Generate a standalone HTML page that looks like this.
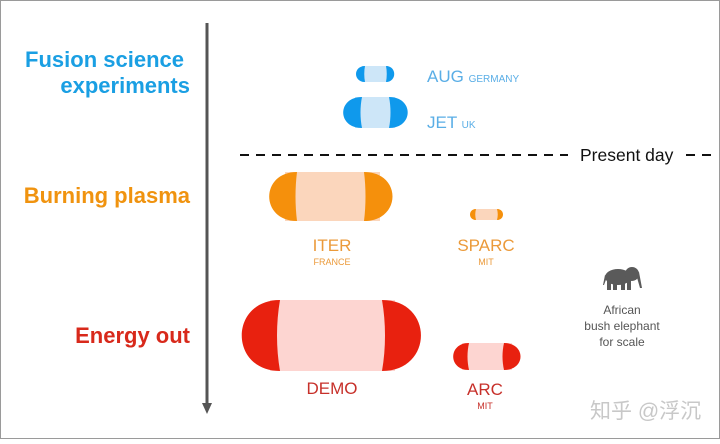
<!DOCTYPE html>
<html><head><meta charset="utf-8"><style>
html,body{margin:0;padding:0;background:#fff}
.f{font-family:"Liberation Sans","Noto Sans CJK SC",sans-serif}
</style></head><body>
<svg width="720" height="439" viewBox="0 0 720 439" xmlns="http://www.w3.org/2000/svg" class="f">
<rect x="0.5" y="0.5" width="719" height="438" fill="#fff" stroke="#9a9a9a"/>
<line x1="207" y1="23" x2="207" y2="405" stroke="#555" stroke-width="3"/>
<polygon points="202,403 212,403 207,414" fill="#555"/>
<g font-weight="bold" font-size="22" text-anchor="end">
<text x="184" y="67" fill="#1a9fe3">Fusion science</text>
<text x="190" y="93" fill="#1a9fe3">experiments</text>
<text x="190" y="203" fill="#f0930f">Burning plasma</text>
<text x="190" y="343" fill="#d8291b">Energy out</text>
</g>
<line x1="240" y1="155" x2="568" y2="155" stroke="#111" stroke-width="2" stroke-dasharray="9,7"/>
<text x="580" y="161" font-size="17.5" fill="#111">Present day</text>
<line x1="686" y1="155" x2="712" y2="155" stroke="#111" stroke-width="2" stroke-dasharray="9,7"/>
<rect x="362" y="66" width="26" height="16" fill="#cde6f8"/>
<path d="M365,66 C353,66 353,82 365,82 C364,77 364,71 365,66Z" fill="#0f99ec"/>
<path d="M386,66 C397,66 397,82 386,82 C387,77 387,71 386,66Z" fill="#0f99ec"/>
<rect x="355" y="97" width="40" height="31" fill="#cde6f8"/>
<path d="M362,97 C337,97 337,128 362,128 C360,118 360,107 362,97Z" fill="#0f99ec"/>
<path d="M389,97 C414,97 414,128 389,128 C391,118 391,107 389,97Z" fill="#0f99ec"/>
<rect x="285" y="172" width="95" height="49" fill="#fbd6bc"/>
<path d="M297,172 C260,172 260,221 297,221 C295,205 295,188 297,172Z" fill="#f5900c"/>
<path d="M364,172 C402,172 402,221 364,221 C366,205 366,188 364,172Z" fill="#f5900c"/>
<rect x="474" y="209" width="25" height="11" fill="#fbd6bc"/>
<path d="M476,209 C468,209 468,220 476,220 C475,216 475,213 476,209Z" fill="#f5900c"/>
<path d="M497,209 C505,209 505,220 497,220 C498,216 498,213 497,209Z" fill="#f5900c"/>
<rect x="270" y="300" width="125" height="71" fill="#fdd5d1"/>
<path d="M280,300 C229,300 229,371 280,371 C276,348 276,323 280,300Z" fill="#e8210f"/>
<path d="M382,300 C434,300 434,371 382,371 C386,348 386,323 382,300Z" fill="#e8210f"/>
<rect x="462" y="343" width="50" height="27" fill="#fdd5d1"/>
<path d="M469,343 C448,343 448,370 469,370 C467,361 467,352 469,343Z" fill="#e8210f"/>
<path d="M504,343 C526,343 526,370 504,370 C502,361 502,352 504,343Z" fill="#e8210f"/>
<text x="427" y="82" font-size="17" fill="#5aaee6">AUG <tspan font-size="10">GERMANY</tspan></text>
<text x="427" y="128" font-size="17" fill="#5aaee6">JET <tspan font-size="10">UK</tspan></text>
<g text-anchor="middle" fill="#eb9a3a">
<text x="332" y="251" font-size="17">ITER</text>
<text x="332" y="265" font-size="9">FRANCE</text>
<text x="486" y="251" font-size="17">SPARC</text>
<text x="486" y="265" font-size="9">MIT</text>
</g>
<g text-anchor="middle" fill="#c7302a">
<text x="332" y="394" font-size="17">DEMO</text>
<text x="485" y="395" font-size="17">ARC</text>
<text x="485" y="409" font-size="9">MIT</text>
</g>
<g fill="#5a5a5a">
<ellipse cx="618" cy="277" rx="13" ry="8"/>
<ellipse cx="632" cy="274" rx="7" ry="7"/>
<rect x="607" y="278" width="4" height="12"/>
<rect x="613" y="280" width="4" height="10"/>
<rect x="621" y="280" width="4" height="10"/>
<rect x="627" y="280" width="4" height="10"/>
<path d="M636,274 L640,288 L642,288 L639,272Z"/>
<path d="M605,275 L603,285 L604,285 L607,277Z"/>
</g>
<g text-anchor="middle" font-size="12" fill="#555">
<text x="622" y="314">African</text>
<text x="622" y="330">bush elephant</text>
<text x="622" y="346">for scale</text>
</g>
<text x="590" y="418" font-size="21" fill="#c8c8c8">知乎 @浮沉</text>
</svg>
</body></html>
